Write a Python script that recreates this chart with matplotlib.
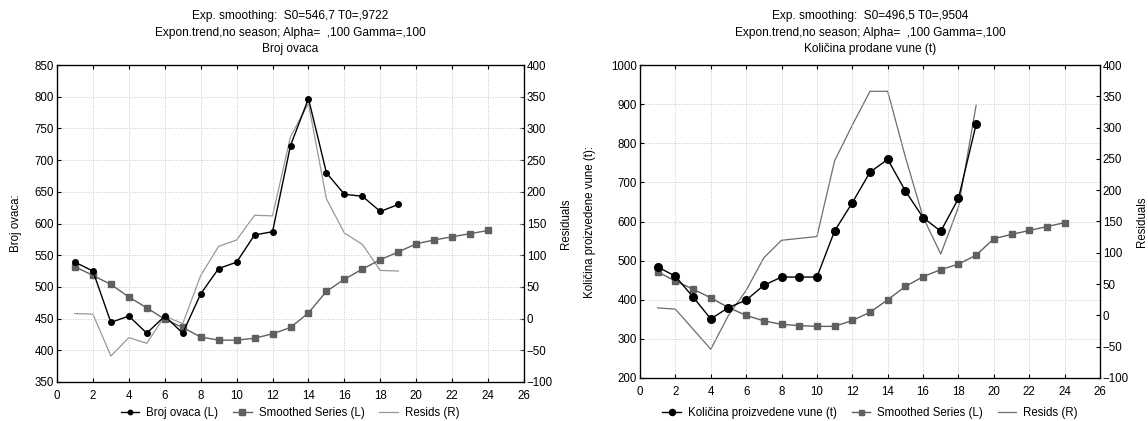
import numpy as np
import matplotlib
matplotlib.use("Agg")
import matplotlib.pyplot as plt

plt.rcParams['font.family'] = ['Liberation Sans', 'DejaVu Sans']
plt.rcParams['font.size'] = 8.3

# === Data: Broj ovaca (left panel) ===
t_obs = list(range(1, 20))
t_smooth = list(range(1, 25))
ovce = [539, 525, 444, 454, 427, 454, 427, 489, 529, 539, 582, 587, 723, 797,
        680, 646, 643, 619, 630]
ovce_smooth = [532, 518, 504, 484, 467, 449, 436, 421, 416, 416, 419, 426, 436, 459,
               493, 512, 528, 543, 555, 568, 574, 579, 584, 589]
ovce_resid = [8, 7, -59, -30, -39, 4, -8, 68, 114, 124, 163, 162, 287, 339,
              189, 135, 117, 76, 75]

# === Data: Kolicina vune (right panel) ===
vuna = [484, 460, 407, 351, 380, 399, 437, 458, 458, 458, 576, 648, 726, 759,
        678, 610, 575, 659, 849]
vuna_smooth = [471, 448, 427, 405, 380, 360, 346, 337, 334, 332, 332, 347, 368, 400,
               434, 459, 477, 491, 514, 556, 567, 577, 587, 597]
vuna_resid = [12, 10, -22, -54, 0, 40, 92, 120, 123, 126, 247, 304, 358, 358,
              253, 157, 98, 173, 336]

W, H = 1148, 421
fig = plt.figure(figsize=(W / 100, H / 100), dpi=100)


def px_axes(x0, x1, y0, y1):
    return fig.add_axes([x0 / W, 1 - y1 / H, (x1 - x0) / W, (y1 - y0) / H])


def style(ax, ylim, yticks):
    ax.set_xlim(0, 26)
    ax.set_xticks(range(0, 27, 2))
    ax.set_ylim(*ylim)
    ax.set_yticks(yticks)
    ax.tick_params(direction='in', top=True, length=3, width=0.8, pad=2)
    ax.tick_params(axis='x', pad=6)
    ax.grid(True, color='#c8c8c8', linestyle=':', linewidth=0.7)
    for s in ax.spines.values():
        s.set_linewidth(0.9)


def panel(x0, x1, y1, cx, titles, obs, smooth, resid, ylim, yticks, ylabel,
          obs_label, ms_obs, ms_sq, resid_color, ylab_x, rlab_x):
    ax = px_axes(x0, x1, 65, y1)
    style(ax, ylim, yticks)
    ax2 = ax.twinx()
    ax2.set_ylim(-100, 400)
    ax2.set_yticks(range(-100, 401, 50))
    ax2.tick_params(direction='in', length=3, width=0.8, pad=2)

    l3, = ax2.plot(t_obs, resid, color=resid_color, lw=0.9, label='Resids (R)')
    l2, = ax.plot(t_smooth, smooth, color='#606060', lw=1.0, marker='s', ms=ms_sq,
                  label='Smoothed Series (L)')
    l1, = ax.plot(t_obs, obs, color='black', lw=1.0, marker='o', ms=ms_obs,
                  label=obs_label)
    ax.set_zorder(ax2.get_zorder() + 1)
    ax.patch.set_visible(False)

    ax.set_ylabel(ylabel)
    ax.yaxis.set_label_coords((ylab_x - x0) / (x1 - x0), 0.5)
    ax2.set_ylabel('Residuals')
    ax2.yaxis.set_label_coords((rlab_x - x0) / (x1 - x0), 0.5)

    for txt, yy in zip(titles, [16, 33, 49]):
        fig.text(cx / W, 1 - yy / H, txt, ha='center', va='center', fontsize=8.6)

    fig.legend([l1, l2, l3], [l1.get_label(), l2.get_label(), l3.get_label()],
               loc='center', bbox_to_anchor=(cx / W, 1 - 413 / H), ncol=3,
               frameon=False, handlelength=1.6, columnspacing=1.3,
               handletextpad=0.6, markerscale=0.8, fontsize=8.3)
    return ax, ax2


panel(57, 524, 382, 290,
      ['Exp. smoothing:  S0=546,7 T0=,9722',
       'Expon.trend,no season; Alpha=  ,100 Gamma=,100',
       'Broj ovaca'],
      ovce, ovce_smooth, ovce_resid, (350, 850), range(350, 851, 50),
      'Broj ovaca:', 'Broj ovaca (L)', 4, 5, '#989898', 22, 560)

panel(640, 1100, 378, 870,
      ['Exp. smoothing:  S0=496,5 T0=,9504',
       'Expon.trend,no season; Alpha=  ,100 Gamma=,100',
       'Količina prodane vune (t)'],
      vuna, vuna_smooth, vuna_resid, (200, 1000), range(200, 1001, 100),
      'Količina proizvedene vune (t):', 'Količina proizvedene vune (t)', 5.5, 4.5,
      '#6e6e6e', 596, 1136)

fig.savefig('out.png', dpi=100)
